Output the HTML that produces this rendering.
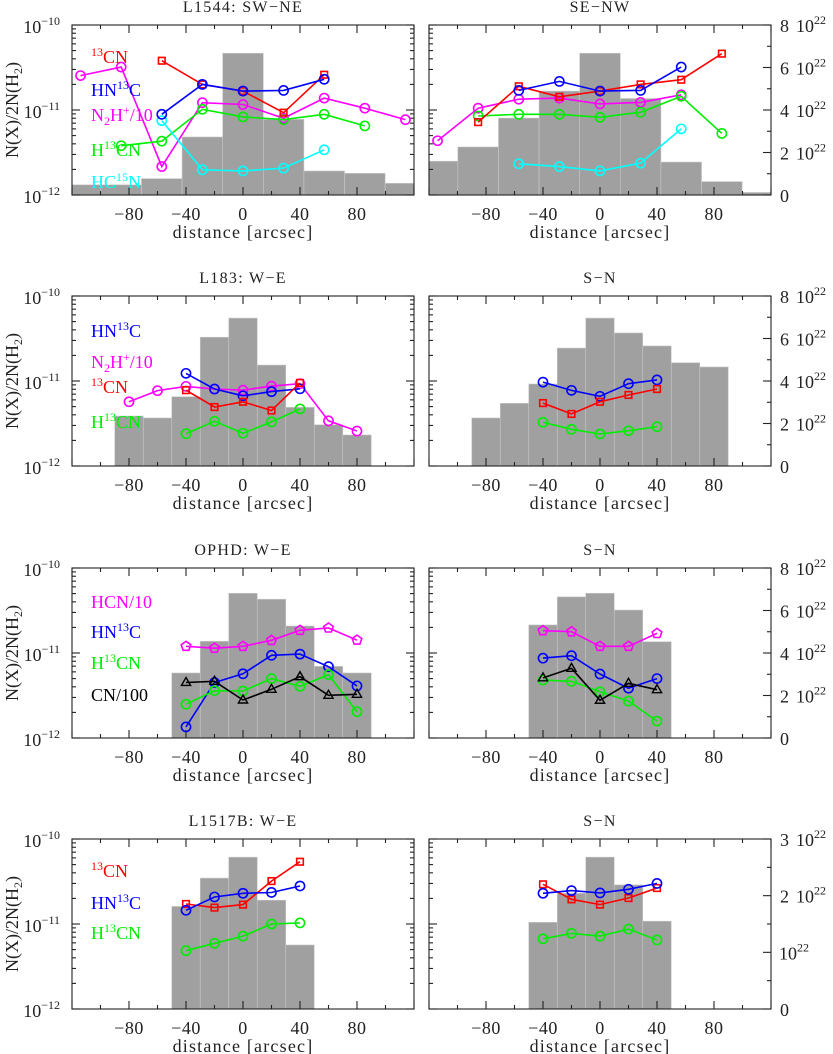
<!DOCTYPE html>
<html><head><meta charset="utf-8"><style>
body{margin:0;background:#fff}
svg{display:block;font-family:"Liberation Serif","DejaVu Serif",serif}
</style></head><body>
<svg id="fig" width="833" height="1054" viewBox="0 0 833 1054" xmlns="http://www.w3.org/2000/svg"></svg>
<script>
// ---- data ----
const tickLabelsX = [-80,-40,0,40,80];
// row 1 : L1544
const r1Edges = [-128.25,-99.75,-71.25,-42.75,-14.25,14.25,42.75,71.25,99.75,128.25];
const r1lHist = [0.48,0.48,0.77,2.73,6.67,3.56,1.13,1.02,0.55];
const r1rHist = [1.59,2.26,3.62,4.89,6.67,4.54,1.55,0.63,0.12];
const r1l_cn_x=[-57,-28.5,0,28.5,57]; const r1l_cn_v=[3.8e-11,2.0e-11,1.67e-11,9.3e-12,2.6e-11];
const r1l_hn_x=[-57,-28.5,0,28.5,57]; const r1l_hn_v=[8.9e-12,2.0e-11,1.67e-11,1.7e-11,2.3e-11];
const r1l_n2_x=[-114,-85.5,-57,-28.5,0,28.5,57,85.5,114]; const r1l_n2_v=[2.54e-11,3.2e-11,2.16e-12,1.22e-11,1.16e-11,8.0e-12,1.38e-11,1.05e-11,7.7e-12];
const r1l_h13_x=[-85.5,-57,-28.5,0,28.5,57,85.5]; const r1l_h13_v=[3.8e-12,4.3e-12,1.02e-11,8.3e-12,7.7e-12,8.9e-12,6.5e-12];
const r1l_hc15_x=[-57,-28.5,0,28.5,57]; const r1l_hc15_v=[7.5e-12,1.98e-12,1.92e-12,2.07e-12,3.4e-12];
const r1r_cn_x=[-85.5,-57,-28.5,0,28.5,57,85.5]; const r1r_cn_v=[7.2e-12,1.9e-11,1.43e-11,1.67e-11,2.0e-11,2.27e-11,4.6e-11];
const r1r_hn_x=[-57,-28.5,0,28.5,57]; const r1r_hn_v=[1.7e-11,2.17e-11,1.67e-11,1.7e-11,3.2e-11];
const r1r_n2_x=[-114,-85.5,-57,-28.5,0,28.5,57]; const r1r_n2_v=[4.35e-12,1.05e-11,1.34e-11,1.38e-11,1.18e-11,1.23e-11,1.51e-11];
const r1r_h13_x=[-85.5,-57,-28.5,0,28.5,57,85.5]; const r1r_h13_v=[8.5e-12,8.9e-12,8.9e-12,8.2e-12,9.4e-12,1.45e-11,5.3e-12];
const r1r_hc15_x=[-57,-28.5,0,28.5,57]; const r1r_hc15_v=[2.33e-12,2.16e-12,1.92e-12,2.37e-12,6.0e-12];
// row 2 : L183
const r2Edges=[-90,-70,-50,-30,-10,10,30,50,70,90];
const r2lHist=[2.35,2.26,3.26,6.06,6.96,4.75,2.76,1.94,1.46];
const r2rHist=[2.26,2.95,3.86,5.55,6.96,6.26,5.65,4.86,4.66];
const x5=[-40,-20,0,20,40];
const x9=[-80,-60,-40,-20,0,20,40,60,80];
const x7=[-40,-20,0,20,40,60,80];
const r2l_hn_v=[1.23e-11,8.05e-12,6.7e-12,7.5e-12,8.1e-12];
const r2l_n2_v=[5.7e-12,7.7e-12,8.65e-12,8.05e-12,7.8e-12,8.7e-12,9.3e-12,3.4e-12,2.58e-12];
const r2l_cn_v=[7.8e-12,4.94e-12,5.7e-12,4.5e-12,9.5e-12];
const r2l_h13_v=[2.4e-12,3.36e-12,2.43e-12,3.3e-12,4.7e-12];
const r2r_hn_v=[9.7e-12,7.76e-12,6.6e-12,9.3e-12,1.03e-11];
const r2r_cn_v=[5.5e-12,4.1e-12,5.7e-12,6.85e-12,8.05e-12];
const r2r_h13_v=[3.27e-12,2.7e-12,2.38e-12,2.6e-12,2.9e-12];
// row 3 : OPHD
const r3lEdges=[-50,-30,-10,10,30,50,70,90];
const r3lHist=[3.06,4.55,6.81,6.53,5.27,3.37,3.06];
const r3rEdges=[-50,-30,-10,10,30,50];
const r3rHist=[5.32,6.64,6.81,6.02,4.53];
const r3l_hcn_v=[1.2e-11,1.14e-11,1.2e-11,1.41e-11,1.85e-11,1.97e-11,1.42e-11];
const r3l_hn_v=[1.35e-12,4.5e-12,5.7e-12,9.4e-12,9.7e-12,6.9e-12,4.1e-12];
const r3l_h13_v=[2.5e-12,3.6e-12,3.57e-12,5.0e-12,4.05e-12,5.55e-12,2.04e-12];
const r3l_cn_v=[4.5e-12,4.65e-12,2.8e-12,3.74e-12,5.26e-12,3.18e-12,3.27e-12];
const r3r_hcn_v=[1.83e-11,1.78e-11,1.2e-11,1.2e-11,1.7e-11];
const r3r_hn_v=[8.7e-12,9.3e-12,5.66e-12,3.85e-12,5.0e-12];
const r3r_cn_v=[5.1e-12,6.6e-12,2.78e-12,4.4e-12,3.7e-12];
const r3r_h13_v=[4.8e-12,4.65e-12,3.5e-12,2.72e-12,1.58e-12];
// row 4 : L1517B
const r4Edges=[-50,-30,-10,10,30,50];
const r4lHist=[1.81,2.31,2.68,1.92,1.13];
const r4rHist=[1.53,2.04,2.68,2.19,1.55];
const r4l_cn_v=[1.72e-11,1.56e-11,1.69e-11,3.2e-11,5.4e-11];
const r4l_hn_v=[1.45e-11,2.08e-11,2.3e-11,2.35e-11,2.8e-11];
const r4l_h13_v=[4.85e-12,5.93e-12,7.2e-12,1.0e-11,1.03e-11];
const r4r_cn_v=[2.93e-11,1.95e-11,1.69e-11,2.02e-11,2.65e-11];
const r4r_hn_v=[2.3e-11,2.47e-11,2.32e-11,2.56e-11,3.0e-11];
const r4r_h13_v=[6.7e-12,7.76e-12,7.2e-12,8.7e-12,6.5e-12];

// ---- layout ----
const NS="http://www.w3.org/2000/svg";
const svg=document.getElementById('fig');
const RED="#ff0000",BLUE="#0000ff",MAG="#ff00ff",GRN="#00ee00",CYA="#00ffff",BLK="#000000";
const tops=[25,296,568,839], H=170;
const lefts=[72,429], W=342;
function el(tag,attrs,parent){const e=document.createElementNS(NS,tag);for(const k in attrs)e.setAttribute(k,attrs[k]);(parent||svg).appendChild(e);return e;}
function xs(p,a){return lefts[p]+ (a+120)/240*W;}
function yl(r,v){return tops[r]+(-10-Math.log10(v))/2*H;}
function yh(r,v,max){return tops[r]+H-v/max*H;}

function hist(r,p,edges,vals,max,name){
  const g=el('g',{'clip-path':'url(#clip'+r+p+')'});
  
  
  for(let i=0;i<vals.length;i++){
    const x0=xs(p,edges[i]),x1=xs(p,edges[i+1]),y=yh(r,vals[i],max);
    const b=el('rect',{x:x0,y:y,width:x1-x0,height:tops[r]+H-y,fill:'#a0a0a0',stroke:'#c8c8c8','stroke-width':0.6},g);
    
    
  }
}
function marker(g,shape,x,y,c){
  let m;
  if(shape==='o') m=el('circle',{cx:x,cy:y,r:4.6,fill:'none',stroke:c,'stroke-width':1.6},g);
  else if(shape==='s') m=el('rect',{x:x-3.3,y:y-3.3,width:6.6,height:6.6,fill:'none',stroke:c,'stroke-width':1.6},g);
  else if(shape==='p'){let pts=[];for(let k=0;k<5;k++){const a=-Math.PI/2+k*2*Math.PI/5;pts.push((x+5*Math.cos(a)).toFixed(1)+','+(y+5*Math.sin(a)).toFixed(1));}
    m=el('polygon',{points:pts.join(' '),fill:'none',stroke:c,'stroke-width':1.6},g);}
  else {m=el('polygon',{points:`${x},${y-5} ${x+4.6},${y+3} ${x-4.6},${y+3}`,fill:'none',stroke:c,'stroke-width':1.4},g);}
  
  
}
function series(r,p,xv,vals,c,shape,name){
  const g=el('g',{});
  
  
  const pts=xv.map((a,i)=>xs(p,a).toFixed(1)+','+yl(r,vals[i]).toFixed(1));
  el('polyline',{points:pts.join(' '),fill:'none',stroke:c,'stroke-width':1.6},g);
  xv.forEach((a,i)=>marker(g,shape,xs(p,a),yl(r,vals[i]),c));
}
function txt(x,y,s,attrs,name){const t=el('text',Object.assign({x:x,y:y,'font-size':15,fill:'#222'},attrs||{}));t.innerHTML=s;
  return t;}
function frame(r,p,title,rightMax,rightLabels){
  const x0=lefts[p],y0=tops[r],x1=x0+W,y1=y0+H;
  const g=el('g',{stroke:'#222','stroke-width':1.1,fill:'none'});
  
  
  el('rect',{x:x0,y:y0,width:W,height:H},g);
  for(let a=-120;a<=120;a+=20){const x=xs(p,a),L=(a%40===0)?8:4;
    el('line',{x1:x,y1:y1,x2:x,y2:y1-L},g);el('line',{x1:x,y1:y0,x2:x,y2:y0+L},g);}
  for(let d=-12;d<=-10;d++)for(let k=1;k<=9;k++){ if(d===-10&&k>1)break;
    const y=yl(r,k*Math.pow(10,d)),L=k===1?8:4;
    el('line',{x1:x0,y1:y,x2:x0+L,y2:y},g);
    if(p===0) el('line',{x1:x1,y1:y,x2:x1-L,y2:y},g);}
  if(p===1){const step=rightMax>4?1:0.5;
    for(let v=0;v<=rightMax+1e-9;v+=step){const y=yh(r,v,rightMax),L=(Math.abs(v-Math.round(v))<1e-9&&(rightMax<=4||Math.round(v)%2===0))?8:4;
      el('line',{x1:x1,y1:y,x2:x1-L,y2:y},g);}}
  tickLabelsX.forEach(a=>txt(xs(p,a),y1+25,(a<0?'\u2212':'')+Math.abs(a),{'text-anchor':'middle','font-size':18,'letter-spacing':0.5},'x-tick-label'));
  txt((x0+x1)/2,y1+43,'distance [arcsec]',{'text-anchor':'middle','font-size':18,'letter-spacing':1.2},'x-axis-title');
  txt((x0+x1)/2,y0-13,title,{'text-anchor':'middle','font-size':16,'letter-spacing':1.3},'panel-title');
  if(p===0){
    [[y0+8,'10'],[y0+H/2+8,'11'],[y1+8,'12']].forEach(([y,e])=>
      txt(60,y,'10<tspan dy="-8" font-size="12">\u2212'+e+'</tspan>',{'text-anchor':'end','font-size':18},'y-tick-label'));
    txt(0,0,'N(X)/2N(H<tspan dy="4" font-size="12">2</tspan><tspan dy="-4">)</tspan>',{'text-anchor':'middle','font-size':18,transform:`translate(18,${y0+H/2}) rotate(-90)`},'y-axis-title');
  } else {
    rightLabels.forEach(v=>{const y=yh(r,v,rightMax)+7;
      const s=v===0?'0':(v===1?'10<tspan dy="-8" font-size="12">22</tspan>':v+'<tspan dx="7">10</tspan><tspan dy="-8" font-size="12">22</tspan>');
      txt(v===1?779:780,y,s,{'font-size':18},'right-axis-label');});
  }
}
function legend(x,y,html,c){txt(x,y,html,{fill:c,'font-size':18},'legend-entry');}
const CN13=`<tspan dy="-7" font-size="12">13</tspan><tspan dy="7">CN</tspan>`;
const HN13C=`HN<tspan dy="-7" font-size="12">13</tspan><tspan dy="7">C</tspan>`;
const H13CN=`H<tspan dy="-7" font-size="12">13</tspan><tspan dy="7">CN</tspan>`;
const HC15N=`HC<tspan dy="-7" font-size="12">15</tspan><tspan dy="7">N</tspan>`;
const N2H=`N<tspan dy="4" font-size="12">2</tspan><tspan dy="-4">H</tspan><tspan dy="-7" font-size="12">+</tspan><tspan dy="7">/10</tspan>`;

const defs=el('defs',{});
for(let r=0;r<4;r++)for(let p=0;p<2;p++){const c=el('clipPath',{id:'clip'+r+p},defs);el('rect',{x:lefts[p],y:tops[r],width:W,height:H},c);}

hist(0,0,r1Edges,r1lHist,8,'column-density-hist');hist(0,1,r1Edges,r1rHist,8,'column-density-hist');
hist(1,0,r2Edges,r2lHist,8,'column-density-hist');hist(1,1,r2Edges,r2rHist,8,'column-density-hist');
hist(2,0,r3lEdges,r3lHist,8,'column-density-hist');hist(2,1,r3rEdges,r3rHist,8,'column-density-hist');
hist(3,0,r4Edges,r4lHist,3,'column-density-hist');hist(3,1,r4Edges,r4rHist,3,'column-density-hist');

frame(0,0,'L1544: SW\u2212NE');frame(0,1,'SE\u2212NW',8,[0,2,4,6,8]);
frame(1,0,'L183: W\u2212E');frame(1,1,'S\u2212N',8,[0,2,4,6,8]);
frame(2,0,'OPHD: W\u2212E');frame(2,1,'S\u2212N',8,[0,2,4,6,8]);
frame(3,0,'L1517B: W\u2212E');frame(3,1,'S\u2212N',3,[0,1,2,3]);

series(0,0,r1l_n2_x,r1l_n2_v,MAG,'o','n2h-series');
series(0,0,r1l_h13_x,r1l_h13_v,GRN,'o','h13cn-series');
series(0,0,r1l_hc15_x,r1l_hc15_v,CYA,'o','hc15n-series');
series(0,0,r1l_cn_x,r1l_cn_v,RED,'s','cn13-series');
series(0,0,r1l_hn_x,r1l_hn_v,BLUE,'o','hn13c-series');
series(0,1,r1r_n2_x,r1r_n2_v,MAG,'o','n2h-series');
series(0,1,r1r_h13_x,r1r_h13_v,GRN,'o','h13cn-series');
series(0,1,r1r_hc15_x,r1r_hc15_v,CYA,'o','hc15n-series');
series(0,1,r1r_cn_x,r1r_cn_v,RED,'s','cn13-series');
series(0,1,r1r_hn_x,r1r_hn_v,BLUE,'o','hn13c-series');

series(1,0,x9,r2l_n2_v,MAG,'o','n2h-series');
series(1,0,x5,r2l_hn_v,BLUE,'o','hn13c-series');
series(1,0,x5,r2l_cn_v,RED,'s','cn13-series');
series(1,0,x5,r2l_h13_v,GRN,'o','h13cn-series');
series(1,1,x5,r2r_hn_v,BLUE,'o','hn13c-series');
series(1,1,x5,r2r_cn_v,RED,'s','cn13-series');
series(1,1,x5,r2r_h13_v,GRN,'o','h13cn-series');

series(2,0,x7,r3l_hcn_v,MAG,'p','hcn-series');
series(2,0,x7,r3l_hn_v,BLUE,'o','hn13c-series');
series(2,0,x7,r3l_h13_v,GRN,'o','h13cn-series');
series(2,0,x7,r3l_cn_v,BLK,'t','cn-series');
series(2,1,x5,r3r_hcn_v,MAG,'p','hcn-series');
series(2,1,x5,r3r_hn_v,BLUE,'o','hn13c-series');
series(2,1,x5,r3r_h13_v,GRN,'o','h13cn-series');
series(2,1,x5,r3r_cn_v,BLK,'t','cn-series');

series(3,0,x5,r4l_cn_v,RED,'s','cn13-series');
series(3,0,x5,r4l_hn_v,BLUE,'o','hn13c-series');
series(3,0,x5,r4l_h13_v,GRN,'o','h13cn-series');
series(3,1,x5,r4r_cn_v,RED,'s','cn13-series');
series(3,1,x5,r4r_hn_v,BLUE,'o','hn13c-series');
series(3,1,x5,r4r_h13_v,GRN,'o','h13cn-series');

legend(91,63,CN13,RED);legend(91,96,HN13C,BLUE);legend(91,121,N2H,MAG);legend(91,156,H13CN,GRN);legend(91,188,HC15N,CYA);
legend(91,337,HN13C,BLUE);legend(91,368,N2H,MAG);legend(91,393,CN13,RED);legend(91,428,H13CN,GRN);
legend(91,608,'HCN/10',MAG);legend(91,638,HN13C,BLUE);legend(91,669,H13CN,GRN);legend(91,701,'CN/100',BLK);
legend(91,877,CN13,RED);legend(91,909,HN13C,BLUE);legend(91,939,H13CN,GRN);
</script>
</body></html>
